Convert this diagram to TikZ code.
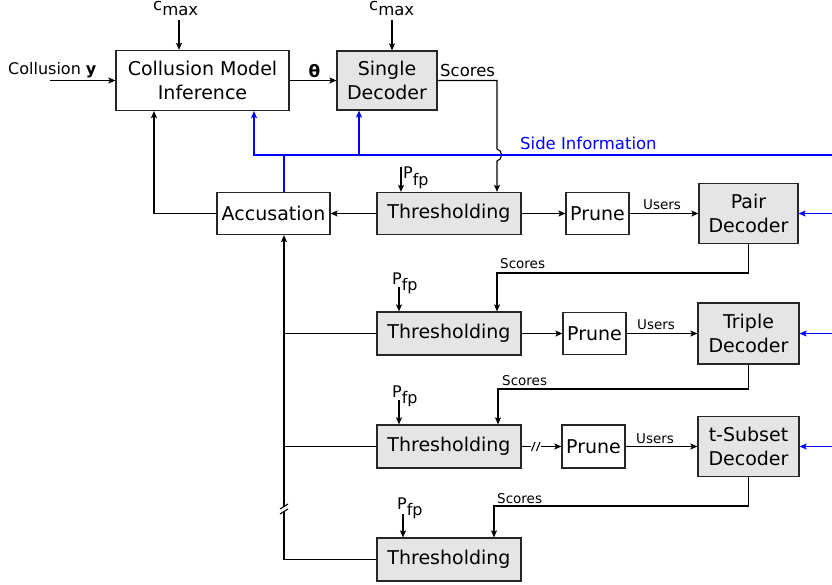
\documentclass[tikz,border=0pt]{standalone}
\usepackage{fontspec}
\setmainfont{DejaVu Sans}
\usetikzlibrary{arrows.meta}
\newcommand\mypfp{P\raisebox{-0.38em}{fp}}
\newcommand\mycmax{c\raisebox{-0.3em}{max}}
\begin{document}
\begin{tikzpicture}[x=1pt,y=-1pt,
  box/.style={draw=black!85, line width=1.2pt, inner sep=0pt, font=\fontsize{19}{24}\selectfont, align=center},
  wbox/.style={box, fill=white},
  gbox/.style={box, fill=black!10},
  arr/.style={-{Stealth[length=7pt,width=6pt,inset=1.5pt]}, line width=1.1pt},
  ln/.style={line width=1.1pt},
  bl/.style={draw=blue, line width=1.1pt},
  blarr/.style={bl, -{Stealth[length=7pt,width=6pt,inset=1.5pt]}},
  small/.style={font=\fontsize{13.5}{16}\selectfont, inner sep=0pt},
  lbl/.style={font=\fontsize{16.5}{20}\selectfont, inner sep=0pt},
  pf/.style={font=\fontsize{16}{20}\selectfont, inner sep=0pt}
]
\useasboundingbox (0,0) rectangle (832,585);

% boxes
\node[wbox, minimum width=173pt, minimum height=60pt] (cmi) at (202.5,80.5) {Collusion Model\\Inference};
\node[gbox, minimum width=100pt, minimum height=59pt] (sd) at (387,80.5) {Single\\Decoder};
\node[wbox, minimum width=113pt, minimum height=42pt] (acc) at (273.5,213.5) {Accusation};
\node[gbox, minimum width=144pt, minimum height=42pt] (thr1) at (449,213.5) {Thresholding};
\node[wbox, minimum width=63pt, minimum height=42pt] (pr1) at (597.5,213.5) {Prune};
\node[gbox, minimum width=99pt, minimum height=60pt] (pair) at (748.5,213.5) {Pair\\Decoder};
\node[gbox, minimum width=144pt, minimum height=43pt] (thr2) at (449,333.5) {Thresholding};
\node[wbox, minimum width=63pt, minimum height=42pt] (pr2) at (594.5,333.5) {Prune};
\node[gbox, minimum width=101pt, minimum height=61pt] (triple) at (748.5,333.5) {Triple\\Decoder};
\node[gbox, minimum width=144pt, minimum height=43pt] (thr3) at (449,446.5) {Thresholding};
\node[wbox, minimum width=63pt, minimum height=43pt] (pr3) at (593.5,446.5) {Prune};
\node[gbox, minimum width=101pt, minimum height=60pt] (tsub) at (748.5,446.5) {t-Subset\\Decoder};
\node[gbox, minimum width=144pt, minimum height=43pt] (thr4) at (449,559.5) {Thresholding};

% labels
\node[lbl, anchor=base west] (cm1) at (153,11) {\mycmax};
\node[lbl, anchor=base west] (cm2) at (369,11) {\mycmax};
\node[pf, anchor=base west] (coll) at (8,75) {Collusion \textbf{y}};
\node[font=\fontsize{17}{20}\selectfont\bfseries, inner sep=0pt] (th) at (314.5,71) {θ};
\node[lbl, anchor=base west] (sc1l) at (440,77) {Scores};
\node[lbl, anchor=base west, text=blue] (sil) at (520,150) {Side Information};
\node[pf, anchor=base west] (pl1) at (403,179) {\mypfp};
\node[pf, anchor=base west] (pl2) at (392,284) {\mypfp};
\node[pf, anchor=base west] (pl3) at (392,397) {\mypfp};
\node[pf, anchor=base west] (pl4) at (397,509) {\mypfp};
\node[small, anchor=base west] (sc2l) at (500,269) {Scores};
\node[small, anchor=base west] (sc3l) at (502,385) {Scores};
\node[small, anchor=base west] (sc4l) at (497,503) {Scores};
\node[small, anchor=base west] (us1) at (643,210) {Users};
\node[small, anchor=base west] (us2) at (637,329) {Users};
\node[small, anchor=base west] (us3) at (636,443) {Users};

% top inputs
\coordinate (c1) at (179,20);
\draw[arr] (c1) -- (c1 |- cmi.north);
\coordinate (c2) at (392,20);
\draw[arr] (c2) -- (c2 |- sd.north);
\coordinate (cy) at (50,80.5);
\draw[arr] (cy) -- (cmi.west);
\draw[arr] (cmi.east) -- (sd.west);

% scores from single decoder with jump
\coordinate (s1a) at (497,80.5);
\coordinate (s1b) at (497,149);
\coordinate (s1c) at (497,161);
\draw[arr] (sd.east) -- (s1a) -- (s1b) .. controls (503,150) and (503,160) .. (s1c) -- (s1c |- thr1.north);

% side information
\coordinate (siR) at (832,155);
\coordinate (si1) at (254,155);
\coordinate (si2) at (359,155);
\coordinate (si3) at (284,155);
\draw[blarr] (siR) -- (si1) -- (si1 |- cmi.south);
\draw[blarr] (si2) -- (si2 |- sd.south);
\draw[bl] (si3) -- (si3 |- acc.north);
\draw[blarr] (pair.east -| siR) -- (pair.east);
\draw[blarr] (triple.east -| siR) -- (triple.east);
\draw[blarr] (tsub.east -| siR) -- (tsub.east);

% accusation feedback
\coordinate (aL) at (154,213.5);
\draw[arr] (acc.west) -- (aL) -- (aL |- cmi.south);
\draw[arr] (thr1.west) -- (acc.east);

% P_fp arrows
\coordinate (p1) at (401,167);
\draw[arr] (p1) -- (p1 |- thr1.north);
\coordinate (p2) at (399,287);
\draw[arr] (p2) -- (p2 |- thr2.north);
\coordinate (p3) at (399,400);
\draw[arr] (p3) -- (p3 |- thr3.north);
\coordinate (p4) at (403,514);
\draw[arr] (p4) -- (p4 |- thr4.north);

% row chains
\draw[arr] (thr1.east) -- (pr1.west);
\draw[arr] (pr1.east) -- (pair.west);
\draw[arr] (thr2.east) -- (pr2.west);
\draw[arr] (pr2.east) -- (triple.west);
\coordinate (g1) at (531,446.5);
\coordinate (g2) at (541,446.5);
\draw[ln] (thr3.east) -- (g1);
\draw[ln] (531.5,451) -- (535,442);
\draw[ln] (536.5,451) -- (540,442);
\draw[arr] (g2) -- (pr3.west);
\draw[arr] (pr3.east) -- (tsub.west);

% scores from decoders
\coordinate (d2a) at (748.5,273);
\coordinate (d2b) at (497,273);
\draw[arr] (pair.south) -- (d2a) -- (d2b) -- (d2b |- thr2.north);
\coordinate (d3a) at (748.5,389);
\coordinate (d3b) at (498,389);
\draw[arr] (triple.south) -- (d3a) -- (d3b) -- (d3b |- thr3.north);
\coordinate (d4a) at (748.5,506);
\coordinate (d4b) at (494,506);
\draw[arr] (tsub.south) -- (d4a) -- (d4b) -- (d4b |- thr4.north);

% collection line into accusation
\coordinate (v0) at (284,559.5);
\coordinate (vg1) at (284,511.5);
\coordinate (vg2) at (284,506.5);
\draw[ln] (thr4.west) -- (v0) -- (vg1);
\draw[ln] (280,514) -- (288,509);
\draw[ln] (280,509) -- (288,504);
\draw[arr] (vg2) -- (vg2 |- acc.south);
\draw[ln] (thr2.west) -- (thr2.west -| vg1);
\draw[ln] (thr3.west) -- (thr3.west -| vg1);
\end{tikzpicture}
\end{document}
